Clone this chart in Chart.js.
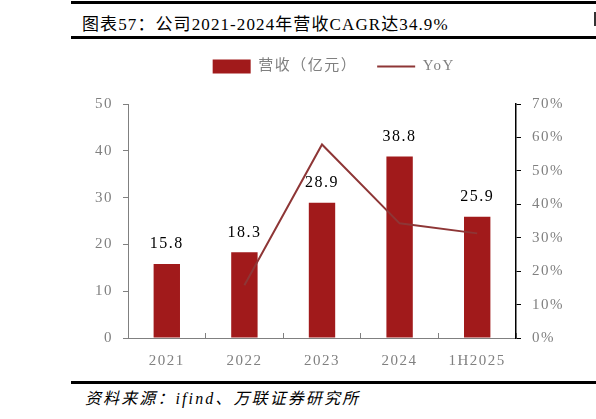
<!DOCTYPE html>
<html>
<head>
<meta charset="utf-8">
<script src="https://cdn.jsdelivr.net/npm/chart.js@4"></script>
<style>
  html, body { margin: 0; padding: 0; background: #fff; }
  body { width: 596px; height: 419px; position: relative; overflow: hidden;
         font-family: "Liberation Serif", "Noto Sans CJK SC", serif; }
  .rule { position: absolute; left: 71px; right: 0; height: 3px; background: #000; }
  #title { position: absolute; left: 82px; top: 10px; font-size: 17px; color: #000; white-space: nowrap;
           letter-spacing: 1.1px; }
  #src { position: absolute; left: 85px; top: 385px; font-size: 16px; font-style: italic; color: #000;
         white-space: nowrap; letter-spacing: 2.1px; }
  #edge { position: absolute; left: 594px; top: 12px; width: 2px; height: 14px; background: #333; }
  #box { position: absolute; left: 58px; top: 39px; width: 538px; height: 341px; }
</style>
</head>
<body>
<div class="rule" style="top:1px"></div>
<div id="title">图表57：公司2021-2024年营收CAGR达34.9%</div>
<div id="edge"></div>
<div class="rule" style="top:36px"></div>
<div id="box"><canvas id="c"></canvas></div>
<div class="rule" style="top:381px"></div>
<div id="src">资料来源：ifind、万联证券研究所</div>
<script>
// 数据
const categories = ['2021', '2022', '2023', '2024', '1H2025'];
const revenue = [15.8, 18.3, 28.9, 38.8, 25.9];   // 营收（亿元）
const yoy = [null, 15.8, 57.9, 34.3, 31.3];       // YoY %

const FONT = '"Liberation Serif", "Noto Sans CJK SC", serif';

// 字距稍宽，接近原图
const spacing = {
  id: 'spacing',
  beforeDraw(chart) { chart.ctx.letterSpacing = '1.5px'; },
  afterDraw(chart) { chart.ctx.letterSpacing = '0px'; }
};

// 图例下方多留空
const legendGap = {
  id: 'legendGap',
  beforeInit(chart) {
    const fit = chart.legend.fit;
    chart.legend.fit = function () {
      fit.call(this);
      this.height += 20;
    };
  }
};

// 柱顶数值
const barLabels = {
  id: 'barLabels',
  afterDatasetsDraw(chart) {
    const meta = chart.getDatasetMeta(0);
    const ctx = chart.ctx;
    ctx.save();
    ctx.letterSpacing = '1.5px';
    ctx.font = '16px ' + FONT;
    ctx.fillStyle = '#000';
    ctx.textAlign = 'center';
    ctx.textBaseline = 'middle';
    meta.data.forEach((bar, i) => {
      ctx.fillText(revenue[i].toFixed(1), bar.x, bar.y - 20);
    });
    ctx.restore();
  }
};

new Chart(document.getElementById('c'), {
  type: 'bar',
  data: {
    labels: categories,
    datasets: [{
      label: '营收（亿元）',
      data: revenue,
      backgroundColor: '#A11A1B',
      barPercentage: 0.34,
      categoryPercentage: 1,
      yAxisID: 'y',
      order: 1,
      pointStyle: 'rect'
    }, {
      type: 'line',
      label: 'YoY',
      data: yoy,
      borderColor: '#8E3636',
      backgroundColor: '#8E3636',
      borderWidth: 2,
      pointRadius: 0,
      tension: 0,
      yAxisID: 'y1',
      order: 0,
      pointStyle: 'line'
    }]
  },
  options: {
    responsive: true,
    maintainAspectRatio: false,
    animation: false,
    plugins: {
      legend: {
        position: 'top',
        labels: {
          usePointStyle: true,
          pointStyleWidth: 38,
          boxHeight: 14,
          color: '#808080',
          font: { family: FONT, size: 15 },
          padding: 20,
          sort: (a, b) => a.datasetIndex - b.datasetIndex
        }
      },
      tooltip: { enabled: false }
    },
    scales: {
      x: {
        offset: true,
        grid: { offset: true, drawOnChartArea: false, tickLength: -5, color: '#808080' },
        border: { color: '#808080', width: 1 },
        ticks: { color: '#808080', font: { family: FONT, size: 15 }, padding: 19 },
        afterFit: s => { s.height = 42; }
      },
      y: {
        position: 'left',
        min: 0, max: 50,
        ticks: { stepSize: 10, color: '#808080', font: { family: FONT, size: 15 }, padding: 10 },
        grid: { drawOnChartArea: false, tickLength: 5, color: '#808080' },
        border: { color: '#808080', width: 1 },
        afterFit: s => { s.width = 70; }
      },
      y1: {
        position: 'right',
        min: 0, max: 70,
        ticks: { stepSize: 10, color: '#808080', font: { family: FONT, size: 15 }, padding: 11,
                 callback: v => v + '%' },
        grid: { drawOnChartArea: false, tickLength: 5, color: '#000' },
        border: { color: '#000', width: 1.5 },
        afterFit: s => { s.width = 80; }
      }
    }
  },
  plugins: [spacing, legendGap, barLabels]
});
</script>
</body>
</html>
